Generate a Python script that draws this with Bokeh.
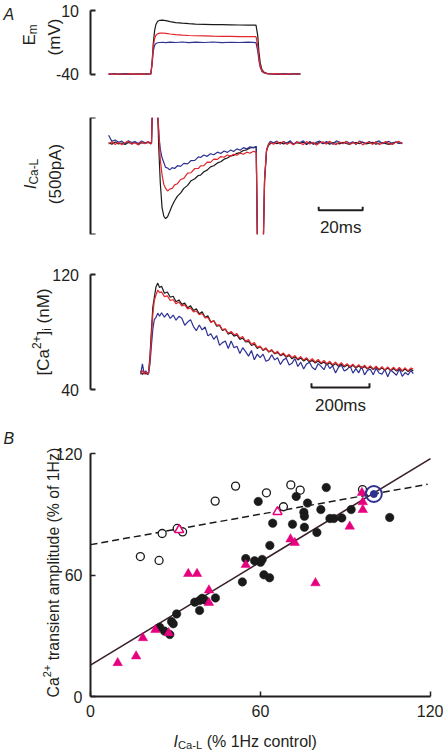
import math
from bokeh.plotting import figure
from bokeh.models import Range1d, LinearAxis, FixedTicker
from bokeh.layouts import column
from bokeh.embed import file_html
from bokeh.resources import INLINE
from bokeh.core.properties import value

NAN = float("nan")

# ---------------- data: panel A, membrane potential (mV) vs time (ms) ----------------
EM_T = [-19.5, -17, -14.5, -12, -9.5, -7, -4.5, -2, -0.3, 0.3, 0.8, 1.4, 2.0, 2.8, 3.8,
        5.0, 6.5, 8.5, 11, 14, 17, 20, 24, 28, 32, 36, 40, 44, 47.5, 48.3, 48.8, 49.4,
        50.2, 51.2, 52.5, 54, 57, 60, 63, 66, 67.7]
EM_BLACK = [-40.2, -39.8, -40.1, -39.9, -40.2, -39.8, -40.1, -39.9, -40.0, -30, -16, -6, -1,
            1.5, 2.3, 2.4, 2.0, 1.3, 0.5, 0.0, -0.4, -0.7, -0.9, -1.1, -1.2, -1.3, -1.4, -1.5,
            -1.5, -10, -22, -31, -36.5, -38.6, -39.5, -39.9, -40.1, -39.9, -40.1, -39.9, -40.0]
EM_RED = [-39.7, -40.3, -39.8, -40.2, -39.7, -40.3, -39.9, -40.2, -39.9, -31, -19, -12, -9.5,
          -8.3, -7.8, -7.7, -8.0, -8.5, -9.0, -9.4, -9.7, -9.9, -10.0, -10.2, -10.3, -10.4,
          -10.5, -10.5, -10.6, -18, -27, -33.5, -37.5, -39.0, -39.7, -40.0, -39.7, -40.3,
          -39.8, -40.2, -39.9]
EM_BLUE = [-40.3, -39.8, -40.2, -39.7, -40.1, -40.3, -39.8, -40.2, -40.0, -32, -22, -17.5,
           -16, -15.4, -15.2, -15.0, -15.3, -14.9, -15.2, -14.8, -15.3, -14.9, -15.2, -14.8,
           -15.3, -15.0, -15.2, -14.9, -15.3, -22, -29, -34.5, -38, -39.2, -39.8, -40.0,
           -40.3, -39.8, -40.2, -39.8, -40.1]

# ---------------- data: panel A, L-type Ca current (pA) vs time (ms) ----------------
# NAN marks where a capacitive transient runs off the 500 pA scale
ICA_T = [-19.5, -18, -16.5, -15, -13.5, -12, -10.5, -9, -7.5, -6, -4.5, -3, -1.5, -0.3,
         0.0, 0.3, 1.5, 2.9,
         3.3, 4.0, 4.8, 5.6, 6.4, 7.3, 8.3, 9.4, 10.5, 11.8, 13.2, 14.7, 16.4, 18.0, 19.7,
         21.3, 22.3, 23.8, 25.3, 26.8, 28.3, 30.0, 31.5, 33.0, 34.5, 36.0, 37.3, 38.8, 40.3,
         41.8, 43.3, 44.8, 46.4, 47.6,
         48.1, 49.5, 50.9, 51.4, 52.3, 53.1, 54.0,
         55.5, 57, 58.5, 60, 61.5, 63, 64.5, 66, 67.5, 69, 70.5, 72, 73.5, 75, 76.5, 78,
         79.5, 81, 82.5, 84, 85.5, 87, 88.5, 90, 91.5, 93, 94.5, 96, 97.5, 99, 100.5, 102,
         103.5, 105, 106.5, 108, 109.5, 111, 112.5, 114]
ICA_BLACK = [2, -4, 5, -3, 1, -5, 3, -2, 4, -6, 2, -1, 3, -2,
             0, 110, NAN, 110,
             -20, -170, -275, -312, -322, -314, -292, -266, -246, -226, -213, -193, -180,
             -160, -152, -138, -136, -122, -115, -101, -96, -84, -79, -68, -63, -54, -52,
             -43, -40, -31, -28, -20, -18, -14,
             -390, NAN, -390, -160, -32, -10, -2,
             3, -2, 4, -3, 1, 5, -4, 2, -1, 4, -5, 3, 0, -3, 5, -2, 2, -4, 3, 1, -3, 4, -1,
             -5, 2, 3, -2, 5, -3, 0, 4, -4, 1, 3, -2, -5, 2, 4, -1, 1]
ICA_RED = [-3, 6, -5, 4, -7, 3, 8, -4, 2, -6, 5, -2, 7, -3,
           0, 110, NAN, 110,
           60, -70, -135, -176, -192, -204, -196, -193, -178, -173, -155, -150, -128, -126,
           -108, -108, -97, -96, -81, -82, -68, -69, -57, -60, -50, -56, -47, -51, -42, -47,
           -38, -43, -34, -39,
           -390, NAN, -390, -150, -28, -8, 3,
           -4, 6, -2, 8, -5, 3, -7, 5, 1, -6, 7, -3, 4, -8, 2, 6, -4, 9, -2, -6, 5, -1, 7,
           -5, 3, -3, 8, -7, 2, 5, -4, 6, -6, 1, 7, -2, -5, 4, 8, -3]
ICA_BLUE = [34, 8, 14, 4, 9, -2, 11, 3, 7, -1, 10, 2, 6, 1,
            0, 110, NAN, 110,
            40, -25, -62, -82, -103, -106, -114, -104, -108, -96, -99, -86, -88, -74, -73,
            -58, -61, -50, -56, -45, -49, -38, -44, -33, -39, -29, -35, -24, -30, -19, -24,
            -15, -20, -14,
            -390, NAN, -390, -155, -30, -5, 8,
            2, 9, -3, 7, 0, 11, -4, 6, 3, 10, -2, 8, -5, 5, 9, -1, 7, 2, -4, 10, 4, -2, 8,
            0, 6, -5, 9, 3, -1, 7, -3, 5, 10, -2, 4, 8, -4, 6, 1, 3]

# ---------------- data: panel A, [Ca2+]i (nM) vs time (ms) ----------------
CA_T = [-27, -21, -15, -9, -3, 0, 5, 10, 15, 20, 26, 32, 38, 45, 55, 65, 75, 85, 95, 105,
        115, 125, 135, 145, 155, 165, 175, 185, 195, 205, 215, 225, 235, 245, 255, 265, 275,
        285, 295, 305, 315, 325, 335, 345, 355, 365, 375, 385, 395, 405, 415, 425, 435, 445,
        455, 465, 475, 485, 495, 505, 515, 525, 535, 545, 555, 565, 575, 585, 595, 605, 615,
        625, 635, 645, 655, 665, 675, 685, 695, 705, 715, 725, 735, 745, 755, 765, 775, 785,
        795, 805, 815, 825, 835, 845, 855, 865, 875, 885, 895, 905, 913]
CA_BLACK = [53.0, 50.5, 52.0, 50.8, 51.6, 51.0, 63.5, 81.0, 97.5, 104.0, 111.5, 114.0, 111.0,
            111.8, 107.0, 107.8, 104.2, 104.9, 101.0, 102.3, 99.2, 100.1, 96.8, 98.2, 95.0,
            96.1, 92.7, 94.0, 90.3, 91.2, 86.9, 87.8, 84.0, 84.6, 81.0, 81.9, 78.4, 79.6,
            77.1, 78.0, 74.9, 75.8, 73.1, 73.4, 70.6, 71.5, 68.6, 69.9, 67.2, 68.4, 66.1,
            67.2, 64.7, 65.9, 63.5, 64.6, 62.4, 63.7, 61.4, 62.8, 60.6, 61.9, 59.8, 61.2,
            59.1, 60.3, 58.4, 59.8, 57.9, 59.1, 57.2, 58.6, 56.6, 58.0, 56.1, 57.5, 55.7,
            57.1, 55.3, 56.8, 54.9, 56.4, 54.6, 56.0, 54.2, 55.7, 53.9, 55.4, 53.6, 55.1,
            53.3, 54.9, 53.1, 54.6, 52.9, 54.4, 52.7, 54.2, 52.5, 54.0, 52.8]
CA_RED = [51.5, 53.2, 50.6, 52.4, 50.9, 51.8, 60.5, 77.0, 92.5, 101.8, 105.9, 109.2, 107.4,
          107.9, 104.6, 105.1, 101.9, 102.6, 99.6, 100.8, 98.2, 98.9, 96.1, 96.8, 93.9, 94.6,
          92.0, 92.9, 89.8, 90.1, 86.7, 87.9, 84.8, 85.0, 81.6, 82.2, 79.1, 80.4, 78.1, 78.9,
          75.8, 76.9, 73.6, 74.8, 71.4, 72.6, 69.3, 70.2, 67.5, 69.0, 66.2, 67.8, 65.1, 66.6,
          64.0, 65.4, 62.9, 64.5, 62.1, 63.6, 61.2, 62.9, 60.5, 62.2, 59.8, 61.4, 59.1, 60.9,
          58.5, 60.2, 57.9, 59.6, 57.3, 59.1, 56.8, 58.6, 56.3, 58.0, 55.8, 57.6, 55.4, 57.2,
          55.0, 56.9, 54.6, 56.5, 54.3, 56.2, 54.0, 55.9, 53.7, 55.7, 53.5, 55.5, 53.3, 55.3,
          53.1, 55.1, 53.0, 55.0, 54.2]
CA_BLUE = [50.5, 57.8, 51.2, 53.0, 50.2, 51.0, 57.5, 70.5, 82.0, 88.6, 90.2, 93.1, 91.0,
           93.4, 90.3, 93.0, 89.4, 91.8, 88.2, 90.9, 89.5, 84.7, 86.9, 88.6, 83.8, 80.9, 84.9,
           81.5, 83.5, 77.3, 78.8, 74.9, 77.4, 70.7, 72.6, 73.7, 68.5, 73.7, 69.1, 70.1, 65.1,
           69.1, 66.3, 63.2, 67.1, 60.7, 64.6, 62.2, 64.6, 59.7, 60.6, 64.2, 60.6, 62.1, 57.4,
           60.6, 61.8, 57.1, 58.3, 61.5, 56.0, 59.0, 54.3, 57.8, 59.0, 55.3, 53.8, 58.0, 56.1,
           53.8, 58.3, 54.6, 56.4, 51.5, 55.4, 56.8, 52.8, 54.0, 56.5, 51.4, 54.5, 51.6, 56.1,
           50.2, 53.3, 54.1, 50.3, 54.7, 51.5, 50.7, 53.9, 48.9, 53.6, 51.8, 49.9, 54.2, 49.2,
           51.8, 50.2, 53.2, 51.0]

# ---------------- data: panel B scatter (% values) ----------------
OPEN_X = [17.6, 24.2, 25.3, 30.6, 32.5, 44.0, 51.2, 62.1, 68.1, 70.7, 74.0, 96.0]
OPEN_Y = [69.1, 67.2, 80.5, 83.0, 81.3, 96.5, 103.9, 100.6, 93.7, 104.5, 101.9, 102.2]
OPEN_TRI_X = [31.3, 66.0]
OPEN_TRI_Y = [82.3, 91.2]
FILLED_X = [59.2, 83.2, 72.6, 76.6, 81.3, 75.3, 75.5, 64.3, 71.3, 75.5, 79.9, 84.5, 85.9,
            88.7, 92.0, 105.6, 63.3, 54.8, 57.9, 60.6, 60.0, 61.2, 63.2, 53.6, 44.1, 36.8,
            38.5, 39.4, 40.3, 38.5, 30.4, 28.6, 29.2, 24.4, 26.1, 28.0]
FILLED_Y = [96.3, 103.2, 98.8, 95.5, 92.3, 91.0, 89.0, 85.6, 85.1, 83.6, 81.0, 87.9, 87.9,
            88.2, 92.3, 88.4, 74.6, 68.1, 67.0, 67.7, 66.3, 60.1, 58.6, 56.6, 48.7, 46.6,
            47.4, 48.5, 47.7, 42.5, 40.8, 37.0, 35.9, 34.2, 32.3, 30.6]
TRI_X = [34.5, 37.6, 54.8, 41.8, 95.8, 96.1, 96.1, 91.5, 70.6, 72.1, 79.4, 41.8, 27.6, 22.9,
         18.5, 16.1, 9.6]
TRI_Y = [60.6, 60.6, 65.0, 52.5, 100.6, 96.0, 92.2, 84.0, 77.7, 75.9, 56.0, 46.3, 31.4, 32.9,
         28.9, 19.9, 16.6]
RING_X = [100]
RING_Y = [100]
SOLID_X = [0, 120]
SOLID_Y = [15.5, 117.5]
DASH_X = [0, 119]
DASH_Y = [75.0, 104.8]

EM_TICKS = [-40, 10]
ICA_BRACKET = [-390, 110]
CA_TICKS = [40, 120]
B_TICKS = [0, 60, 120]

# scale bars (start, length, level)
ICA_BAR = (76.0, 20.0, -286.0)
CA_BAR = (562.0, 200.0, 41.4)

# ---------------- style / layout (page pixels) ----------------
FONT = "Liberation Sans"
INK = "#231f20"
C_BLACK = "#1a1a1a"
C_RED = "#e3262c"
C_BLUE = "#2e3192"
C_MAG = "#e6007e"
W = 443
AXIS_X = 89.5

CW = {' ': .278, '(': .333, ')': .333, '[': .278, ']': .278, '%': .889, '+': .584, '-': .333,
      '0': .556, '1': .556, '2': .556, '5': .556, 'A': .667, 'B': .667, 'C': .722, 'E': .667,
      'H': .722, 'I': .278, 'L': .556, 'M': .833, 'V': .667, 'a': .556, 'c': .5, 'd': .556,
      'e': .556, 'f': .278, 'i': .222, 'l': .222, 'm': .833, 'n': .556, 'o': .556, 'p': .556,
      'r': .333, 's': .5, 't': .278, 'u': .556, 'z': .5}


def tw(s, fs):
    return sum(CW.get(c, .556) for c in s) * fs


class Fig:
    """A figure whose frame spans the full width; maps page pixels to data."""

    def __init__(self, h, xr, yr, bt=0, bb=0):
        self.top = bt
        self.fh = h - bt - bb
        self.xr, self.yr = xr, yr
        p = figure(width=W, height=h, x_range=Range1d(*xr), y_range=Range1d(*yr),
                   output_backend="svg", toolbar_location=None,
                   x_axis_location=None, y_axis_location=None,
                   min_border_left=0, min_border_right=0,
                   min_border_top=bt, min_border_bottom=bb)
        p.xgrid.visible = False
        p.ygrid.visible = False
        p.outline_line_color = None
        self.p = p

    def fx(self, X):
        x0, x1 = self.xr
        return x0 + X * (x1 - x0) / W

    def fy(self, Y):   # Y relative to figure top
        y0, y1 = self.yr
        return y1 - (Y - self.top) * (y1 - y0) / self.fh

    def text(self, X, Y, pieces, size, vertical=False):
        pos = Y if vertical else X
        for txt, kind in pieces:
            fs = size * 0.7 if kind in ("sub", "sup") else size
            off = 0.22 * size if kind == "sub" else (-0.4 * size if kind == "sup" else 0)
            style = "italic" if kind == "it" else "normal"
            lead = len(txt) - len(txt.lstrip(" "))
            if lead:   # SVG drops leading blanks: advance by hand
                adv = tw(" " * lead, fs)
                pos = pos - adv if vertical else pos + adv
                txt = txt.lstrip(" ")
            if vertical:
                x, y, ang = X + off, pos, math.pi / 2
            else:
                x, y, ang = pos, Y + off, 0
            self.p.text(x=[self.fx(x)], y=[self.fy(y)], text=[txt], angle=ang,
                        text_font=value(FONT), text_font_size=value(f"{fs:.1f}px"),
                        text_font_style=style, text_color=INK, text_align="left",
                        text_baseline="alphabetic")
            pos = pos - tw(txt, fs) if vertical else pos + tw(txt, fs)


def bracket_axis(fig, ticks, labels, standoff=11):
    ax = LinearAxis(ticker=FixedTicker(ticks=ticks), bounds=(min(ticks), max(ticks)),
                    fixed_location=fig.fx(AXIS_X),
                    major_tick_in=5, major_tick_out=0, minor_tick_in=0, minor_tick_out=0,
                    axis_line_width=2, axis_line_color=INK, major_tick_line_width=2,
                    major_tick_line_color=INK, major_label_text_font=FONT,
                    major_label_text_font_size="16px", major_label_text_color=INK,
                    major_label_standoff=standoff)
    if labels:
        ax.major_label_overrides = {t: str(t) for t in ticks}
    else:
        ax.major_label_text_color = None
    fig.p.add_layout(ax, "left")


# ---- Em panel: page y 0..100; 10 mV at y=10, 1.27 px/mV; t=0 at x=151, 2.2 px/ms ----
ms_px = 2.2
t_range = (-151 / ms_px, (W - 151) / ms_px)
f1 = Fig(100, t_range, (10 - 90 / 1.27, 10 + 10 / 1.27))
bracket_axis(f1, EM_TICKS, True)
for ys, c in ((EM_BLACK, C_BLACK), (EM_BLUE, C_BLUE), (EM_RED, C_RED)):
    f1.p.line(EM_T, ys, line_color=c, line_width=1.2)
f1.text(29, 45.1, [("E", "n"), ("m", "sub")], 17, True)
f1.text(54, 54.9, [("(mV)", "n")], 17, True)
f1.text(3, 14, [("A", "it")], 16)

# ---- ICa panel: page y 100..250, frame 117..234 is the 500 pA bracket ----
f2 = Fig(150, t_range, (ICA_BRACKET[0], ICA_BRACKET[1]), bt=17, bb=16)
bracket_axis(f2, ICA_BRACKET, False)
for ys, c in ((ICA_BLACK, C_BLACK), (ICA_BLUE, C_BLUE), (ICA_RED, C_RED)):
    f2.p.line(ICA_T, ys, line_color=c, line_width=1.2)
t0, ln, lv = ICA_BAR
f2.p.line([t0, t0, t0 + ln, t0 + ln], [lv + 15, lv, lv, lv + 15], line_color=INK,
          line_width=2)
f2.p.text(x=[t0 + ln / 2], y=[lv - 32], text=["20ms"], text_font=value(FONT),
          text_font_size=value("17px"), text_color=INK, text_align="center",
          text_baseline="top")
f2.text(30, 88.8, [("I", "it"), ("Ca-L", "sub")], 17, True)
f2.text(55, 103.7, [("(500pA)", "n")], 17, True)

# ---- Ca panel: page y 250..420; 40 nM at y=389, 1.4375 px/nM; t=0 at x=148, 0.29 px/ms ----
cpx = 0.29
f3 = Fig(170, (-148 / cpx, (W - 148) / cpx), (40 - 31 / 1.4375, 40 + 139 / 1.4375))
bracket_axis(f3, CA_TICKS, True)
for ys, c in ((CA_BLACK, C_BLACK), (CA_BLUE, C_BLUE), (CA_RED, C_RED)):
    f3.p.line(CA_T, ys, line_color=c, line_width=1.2)
t0, ln, lv = CA_BAR
f3.p.line([t0, t0, t0 + ln, t0 + ln], [lv + 3, lv, lv, lv + 3], line_color=INK, line_width=2)
f3.p.text(x=[t0 + ln / 2], y=[lv - 5.6], text=["200ms"], text_font=value(FONT),
          text_font_size=value("17px"), text_color=INK, text_align="center",
          text_baseline="top")
f3.text(42.5, 125, [("[Ca", "n"), ("2+", "sup"), ("]", "n"), ("i", "sub"), (" (nM)", "n")],
        17, True)

# ---- Panel B: page y 420..752; x 0..120 -> px 90..430, y 0..120 -> py 696..453 ----
bx = 340 / 120.0
by = 243 / 120.0
f4 = Fig(332, (-90 / bx, (W - 90) / bx), ((696 - 752) / by, (696 - 420) / by))
p4 = f4.p
for loc, fixed in (("left", 0), ("below", 0)):
    ax = LinearAxis(ticker=FixedTicker(ticks=B_TICKS), bounds=(0, 120), fixed_location=fixed,
                    major_tick_in=5, major_tick_out=0, minor_tick_in=0, minor_tick_out=0,
                    axis_line_width=2, axis_line_color=INK, major_tick_line_width=1.5,
                    major_tick_line_color=INK, major_label_text_font=FONT,
                    major_label_text_font_size="16px", major_label_text_color=INK,
                    major_label_standoff=8)
    p4.add_layout(ax, loc)
p4.line(DASH_X, DASH_Y, line_color=C_BLACK, line_width=1.5, line_dash="7 4")
p4.line(SOLID_X, SOLID_Y, line_color="#3a1f2c", line_width=1.6)
p4.scatter(OPEN_X, OPEN_Y, marker="circle", size=8, fill_color="white", line_color=C_BLACK,
           line_width=1.3)
p4.scatter(OPEN_TRI_X, OPEN_TRI_Y, marker="triangle", size=9, fill_color="white",
           line_color=C_MAG, line_width=1.5)
p4.scatter(FILLED_X, FILLED_Y, marker="circle", size=8.5, fill_color=C_BLACK,
           line_color=C_BLACK, line_width=0.5)
p4.scatter(TRI_X, TRI_Y, marker="triangle", size=9.5, fill_color=C_MAG, line_color=C_MAG,
           line_width=0.5)
p4.scatter(RING_X, RING_Y, marker="circle", size=16, fill_color=None, line_color=C_BLUE,
           line_width=2)
p4.scatter(RING_X, RING_Y, marker="circle", size=7, fill_color=C_BLUE, line_color=C_BLUE)
f4.text(53, 277, [("Ca", "n"), ("2+", "sup"), (" transient amplitude (% of 1Hz)", "n")],
        15.8, True)
f4.text(173, 321, [("I", "it"), ("Ca-L", "sub"), (" (% 1Hz control)", "n")], 16)
f4.text(3, 18, [("B", "it")], 16)

layout = column(f1.p, f2.p, f3.p, f4.p, spacing=0)
open("out.html", "w").write(file_html(layout, INLINE))
